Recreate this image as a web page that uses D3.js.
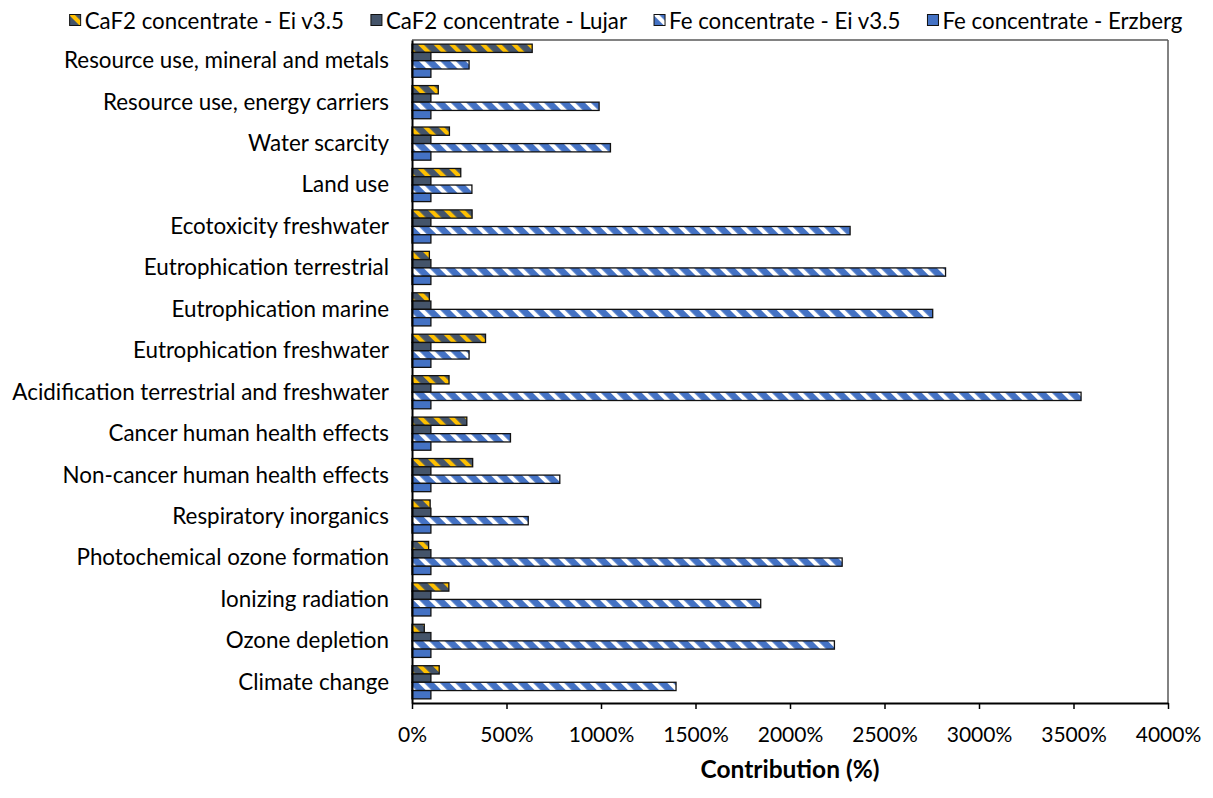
<!DOCTYPE html>
<html><head><meta charset="utf-8">
<script src="https://cdn.jsdelivr.net/npm/d3@7"></script>
<style>body{margin:0;background:#fff}svg{display:block}</style>
</head><body><svg id="c" width="1213" height="798"></svg>
<script>
const categories = [
  "Resource use, mineral and metals",
  "Resource use, energy carriers",
  "Water scarcity",
  "Land use",
  "Ecotoxicity freshwater",
  "Eutrophication terrestrial",
  "Eutrophication marine",
  "Eutrophication freshwater",
  "Acidification terrestrial and freshwater",
  "Cancer human health effects",
  "Non-cancer human health effects",
  "Respiratory inorganics",
  "Photochemical ozone formation",
  "Ionizing radiation",
  "Ozone depletion",
  "Climate change"
];
const seriesNames = ["CaF2 concentrate - Ei v3.5", "CaF2 concentrate - Lujar", "Fe concentrate - Ei v3.5", "Fe concentrate - Erzberg"];
const caf2Ei    = [636, 139, 198, 258, 318, 92, 92, 389, 196, 290, 321, 96, 88, 195, 65, 144];
const caf2Lujar = [100, 100, 100, 100, 100, 100, 100, 100, 100, 100, 100, 100, 100, 100, 100, 100];
const feEi      = [302, 990, 1050, 317, 2318, 2823, 2755, 302, 3540, 521, 782, 615, 2276, 1845, 2235, 1397];
const feErzberg = [100, 100, 100, 100, 100, 100, 100, 100, 100, 100, 100, 100, 100, 100, 100, 100];
const xTicks = [0, 500, 1000, 1500, 2000, 2500, 3000, 3500, 4000];
const xTitle = "Contribution (%)";

const seriesValues = [caf2Ei, caf2Lujar, feEi, feErzberg];
const fills = ["url(#pCaF2)", "#44546A", "url(#pFe)", "#4472C4"];
const FONT = "Lato, 'Open Sans', sans-serif";

const svg = d3.select("#c");
const pL = 412, pR = 1168, pT = 40, pB = 703;

const defs = svg.append("defs");
function stripe(id, bg, fg) {
  const p = defs.append("pattern").attr("id", id)
    .attr("patternUnits", "userSpaceOnUse").attr("width", 11).attr("height", 11)
    .attr("patternTransform", "rotate(-45)");
  p.append("rect").attr("width", 11).attr("height", 11).attr("fill", bg);
  p.append("rect").attr("x", 0).attr("width", 4.2).attr("height", 11).attr("fill", fg);
}
stripe("pCaF2", "#44546A", "#FFC000");
stripe("pFe", "#4472C4", "#FFFFFF");

const x = d3.scaleLinear().domain([0, 4000]).range([pL, pR]);
const y = d3.scaleBand().domain(categories).range([pT, pB]).paddingInner(0.2).paddingOuter(0.1);
const ys = d3.scaleBand().domain(seriesNames).range([0, y.bandwidth()]);

// plot area border (top & right)
svg.append("line").attr("x1", pL).attr("x2", pR).attr("y1", pT).attr("y2", pT)
  .attr("stroke", "#595959").attr("stroke-width", 1.5);
svg.append("line").attr("x1", pR).attr("x2", pR).attr("y1", pT).attr("y2", pB)
  .attr("stroke", "#595959").attr("stroke-width", 1.5);

// bars
seriesNames.forEach((s, si) => {
  svg.append("g").selectAll("rect").data(categories).join("rect")
    .attr("x", x(0))
    .attr("y", c => y(c) + ys(s))
    .attr("width", (c, i) => x(seriesValues[si][i]) - x(0))
    .attr("height", ys.bandwidth())
    .attr("fill", fills[si])
    .attr("stroke", "#111").attr("stroke-width", 1.3);
});

// x axis
const xa = svg.append("g").attr("transform", `translate(0,${pB})`)
  .call(d3.axisBottom(x).tickValues(xTicks).tickFormat(d => d + "%").tickSize(6).tickSizeOuter(0));
xa.select(".domain").attr("stroke", "#000").attr("stroke-width", 2);
xa.selectAll(".tick line").attr("stroke", "#000").attr("stroke-width", 1.5);
xa.selectAll(".tick text").attr("font-family", FONT).attr("font-size", 21).attr("fill", "#000")
  .attr("y", 39).attr("dy", 0);

// y axis
const ya = svg.append("g").attr("transform", `translate(${pL},0)`)
  .call(d3.axisLeft(y).tickSize(0).tickPadding(23));
ya.select(".domain").attr("stroke", "#000").attr("stroke-width", 2);
ya.selectAll(".tick text").attr("font-family", FONT).attr("font-size", 22.4).attr("fill", "#000")
  .attr("dy", "0.33em");

// axis title
svg.append("text").attr("x", (pL + pR) / 2).attr("y", 778)
  .attr("text-anchor", "middle").attr("font-family", FONT).attr("font-weight", "bold")
  .attr("font-size", 24.5).attr("fill", "#000").text(xTitle);

// legend
const lg = svg.append("g");
let cx = 0;
seriesNames.forEach((s, si) => {
  const g = lg.append("g").attr("transform", `translate(${cx},0)`);
  g.append("rect").attr("x", 0).attr("y", 14.5).attr("width", 11).attr("height", 11)
    .attr("fill", fills[si]).attr("stroke", "#111").attr("stroke-width", 1);
  const t = g.append("text").attr("x", 15).attr("y", 28.5)
    .attr("font-family", FONT).attr("font-size", 22.3).attr("fill", "#000").text(s);
  cx += 15 + t.node().getComputedTextLength() + 27;
});
const lw = cx - 27;
lg.attr("transform", `translate(${626 - lw / 2},0)`);
</script>
</body></html>
